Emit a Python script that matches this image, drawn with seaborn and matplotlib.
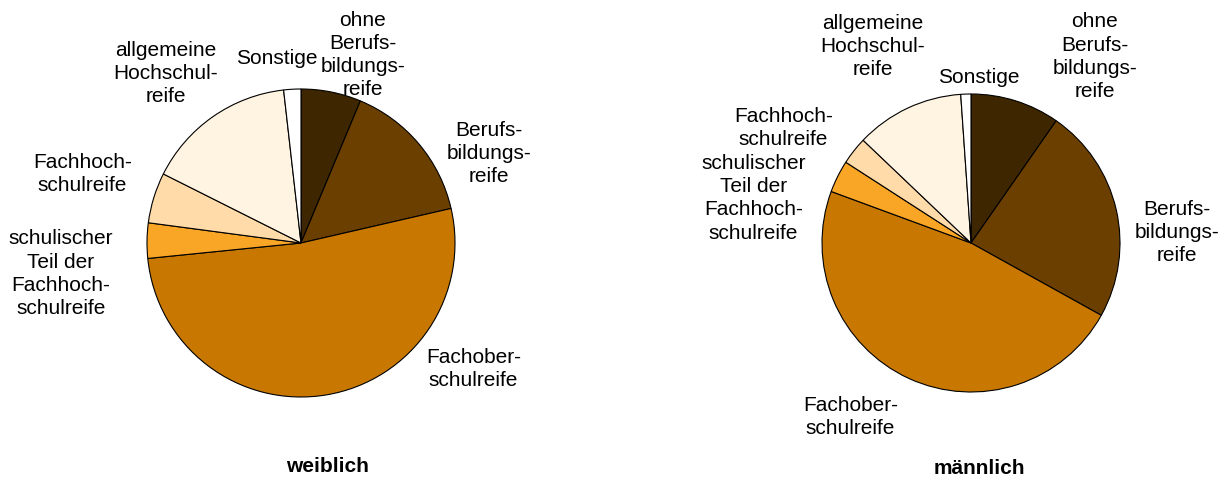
import matplotlib
matplotlib.use("Agg")
import matplotlib.pyplot as plt
import seaborn as sns

# Schulabschluss categories (clockwise from top)
categories = [
    "ohne\nBerufs-\nbildungs-\nreife",
    "Berufs-\nbildungs-\nreife",
    "Fachober-\nschulreife",
    "schulischer\nTeil der\nFachhoch-\nschulreife",
    "Fachhoch-\nschulreife",
    "allgemeine\nHochschul-\nreife",
    "Sonstige",
]
weiblich = [6.3, 15.1, 52.0, 3.7, 5.3, 15.8, 1.8]
maennlich = [9.7, 23.4, 47.6, 3.5, 3.0, 11.8, 1.1]
colors = ["#3D2600", "#6B3F00", "#C87800", "#F9A526", "#FEDBA8", "#FFF3E1", "#FFFFFF"]

# label positions in units of pie radius (layout only)
pos_w = [(0.40, 1.22), (1.22, 0.58), (1.12, -0.82), (-1.56, -0.20),
         (-1.42, 0.45), (-0.88, 1.10), (-0.16, 1.20)]
pos_m = [(0.83, 1.25), (1.38, 0.07), (-0.81, -1.17), (-1.46, 0.30),
         (-1.26, 0.77), (-0.66, 1.32), (0.05, 1.11)]

sns.set_theme(style="white")
plt.rcParams["font.family"] = ["Liberation Sans", "DejaVu Sans"]
plt.rcParams["text.color"] = "black"

W, H = 1223, 482
fig = plt.figure(figsize=(W / 100, H / 100), dpi=100)


def draw_pie(values, positions, title, cx, cy, r, title_xy):
    ax = fig.add_axes([(cx - 2 * r) / W, (H - cy - 2 * r) / H, 4 * r / W, 4 * r / H])
    ax.pie(values, colors=colors, startangle=90, counterclock=False,
           wedgeprops=dict(edgecolor="black", linewidth=0.8))
    ax.set_xlim(-2, 2)
    ax.set_ylim(-2, 2)
    ax.set_aspect("equal")
    ax.axis("off")
    for lab, (x, y) in zip(categories, positions):
        ax.text(x, y, lab, ha="center", va="center", fontsize=15,
                linespacing=1.28, color="black", clip_on=False)
    fig.text(title_xy[0] / W, 1 - title_xy[1] / H, title, ha="center", va="center",
             fontsize=15, fontweight="bold", color="black")


draw_pie(weiblich, pos_w, "weiblich", 301, 243, 154, (328, 466))
draw_pie(maennlich, pos_m, "männlich", 971, 243, 149, (979, 469))

fig.savefig("out.png", dpi=100)
